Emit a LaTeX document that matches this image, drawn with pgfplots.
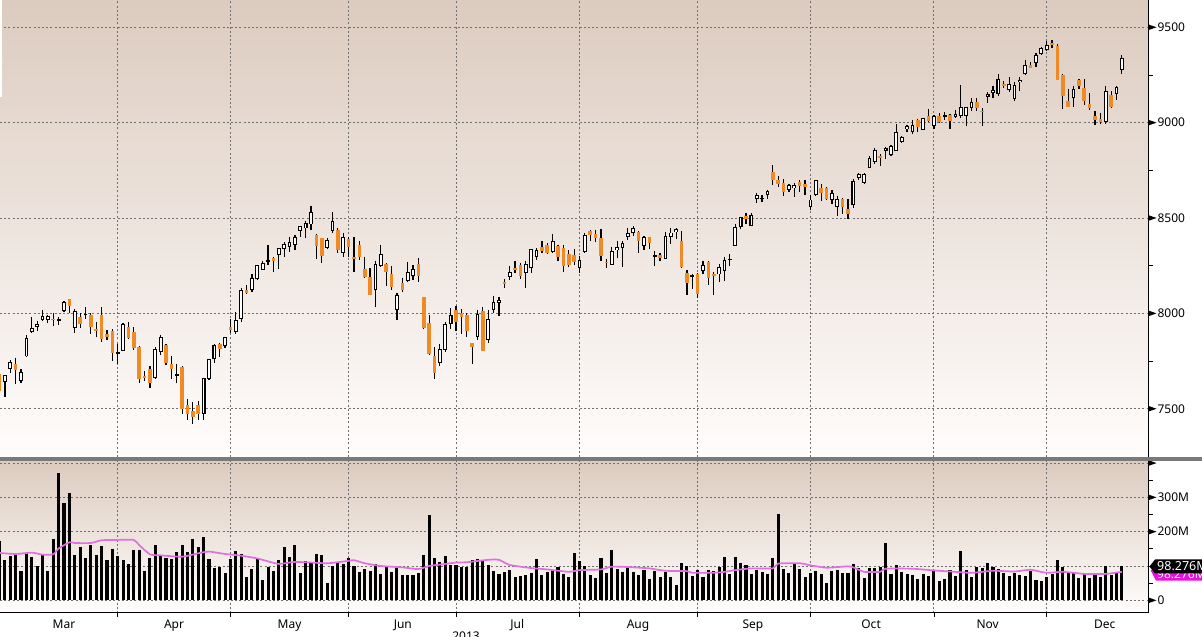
\documentclass[border=0pt]{standalone}
\usepackage{pgfplots}
\usepackage{pgfplotstable}
\usepackage{fontspec}
\setmainfont{Noto Sans}
\pgfplotsset{compat=1.18}
\definecolor{bgtop}{HTML}{DCCBBF}
\definecolor{bgbot}{HTML}{FFFDFC}
\definecolor{gridc}{HTML}{707070}
\definecolor{cand}{HTML}{F08A24}
\definecolor{maline}{HTML}{E070E0}
\definecolor{flagm}{HTML}{E810E0}
\pgfdeclareplotmark{rtri}{\pgfpathmoveto{\pgfqpoint{0pt}{2.8pt}}\pgfpathlineto{\pgfqpoint{8pt}{0pt}}\pgfpathlineto{\pgfqpoint{0pt}{-2.8pt}}\pgfpathclose\pgfusepathqfill}
\pgfplotstableread{
i o h l c
-1 7640 7675 7562 7675
0 7707 7754 7688 7742
2 7649 7707 7635 7690
3 7775 7886 7772 7870
4 7902 7979 7898 7921
5 7930 7961 7909 7944
6 7965 8018 7961 7984
7 7968 7991 7951 7986
9 7965 7982 7940 7970
10 8012 8065 8009 8061
12 7925 8023 7898 8012
14 7995 8032 7970 7998
20 7788 7842 7737 7795
21 7805 7947 7804 7944
27 7663 7825 7656 7812
28 7797 7886 7781 7877
31 7677 7737 7635 7681
36 7474 7663 7439 7660
37 7656 7763 7649 7760
38 7760 7839 7740 7833
40 7830 7877 7819 7874
42 7902 8005 7893 7963
43 7974 8132 7956 8123
45 8126 8205 8114 8184
46 8179 8254 8174 8251
47 8230 8274 8225 8263
48 8275 8358 8251 8279
50 8307 8342 8233 8340
51 8337 8372 8298 8365
52 8351 8403 8324 8374
53 8358 8412 8330 8400
54 8435 8460 8403 8456
55 8446 8482 8395 8474
56 8467 8565 8435 8531
59 8344 8393 8340 8384
60 8433 8531 8424 8484
62 8316 8421 8293 8400
68 8126 8277 8035 8258
69 8247 8360 8244 8310
72 8019 8109 7967 8096
74 8172 8270 8165 8216
75 8198 8251 8175 8233
80 7740 7842 7723 7812
81 7807 7956 7798 7944
82 7946 8026 7918 7991
87 7875 8018 7863 7996
89 7861 8018 7846 7968
90 8019 8091 8002 8058
91 8058 8084 7988 8068
93 8191 8249 8175 8216
96 8214 8274 8135 8258
97 8240 8337 8214 8335
98 8296 8342 8282 8332
101 8324 8417 8319 8377
106 8237 8302 8210 8279
107 8321 8421 8316 8412
112 8256 8349 8253 8325
113 8332 8382 8290 8346
114 8342 8379 8242 8368
115 8400 8449 8384 8419
116 8425 8458 8405 8446
118 8354 8405 8332 8398
120 8297 8325 8247 8304
122 8288 8428 8284 8404
123 8400 8446 8365 8423
124 8426 8447 8389 8439
127 8191 8205 8130 8198
129 8223 8272 8209 8251
132 8205 8260 8167 8240
133 8221 8298 8172 8281
134 8281 8309 8247 8286
135 8356 8470 8353 8451
136 8456 8507 8444 8503
138 8461 8526 8456 8514
139 8602 8633 8579 8619
140 8602 8619 8586 8605
141 8621 8649 8598 8640
145 8646 8677 8637 8670
146 8658 8686 8609 8672
149 8561 8619 8542 8596
150 8621 8700 8616 8696
153 8596 8646 8574 8628
154 8558 8616 8509 8598
157 8568 8702 8553 8695
158 8709 8735 8700 8728
159 8686 8735 8677 8730
160 8765 8826 8761 8812
161 8795 8865 8782 8856
163 8854 8874 8809 8868
164 8832 8881 8826 8877
165 8853 8993 8853 8951
166 8900 8928 8895 8925
167 8967 8988 8953 8981
168 8953 9014 8940 8986
170 8963 9026 8961 9023
172 8984 9040 8967 9035
174 9033 9054 9014 9037
176 9030 9067 9023 9045
177 9035 9198 9026 9081
178 9035 9084 8984 9081
179 9079 9130 9063 9109
182 9137 9158 9102 9151
183 9158 9194 9131 9172
184 9152 9256 9140 9228
186 9173 9240 9158 9203
187 9124 9214 9114 9198
188 9212 9240 9166 9224
189 9256 9329 9250 9301
191 9312 9364 9294 9354
192 9362 9399 9357 9390
193 9380 9429 9376 9406
198 9128 9194 9081 9175
204 9004 9193 8995 9165
206 9149 9191 9119 9187
207 9278 9355 9257 9338
}\upT
\pgfplotstableread{
i o h l c
-2 7684 7684 7593 7593
1 7737 7768 7632 7702
8 7970 8000 7935 7967
11 8075 8075 8000 8040
13 7982 8000 7923 7946
15 7991 8000 7891 7928
16 7918 7956 7874 7907
17 7991 8032 7849 7868
18 7891 7912 7860 7875
19 7907 7916 7749 7790
22 7928 7954 7865 7872
23 7904 7928 7807 7816
24 7823 7828 7633 7656
25 7670 7697 7644 7660
26 7707 7723 7607 7633
29 7833 7839 7728 7742
30 7737 7775 7654 7709
32 7718 7723 7472 7498
33 7518 7553 7439 7472
34 7490 7533 7419 7456
35 7518 7539 7439 7472
39 7840 7847 7770 7814
41 7928 7970 7897 7914
44 8123 8149 8102 8109
49 8288 8298 8217 8275
57 8412 8417 8286 8351
58 8393 8396 8265 8302
61 8439 8447 8319 8333
63 8389 8403 8298 8349
64 8296 8400 8217 8288
65 8360 8382 8281 8295
66 8232 8295 8184 8189
67 8189 8237 8096 8096
70 8260 8263 8144 8217
71 8209 8249 8125 8139
73 8158 8188 8112 8123
76 8260 8291 8165 8196
77 8084 8088 7916 7921
78 7949 7991 7784 7788
79 7775 7825 7656 7688
83 8016 8040 7909 7956
84 8000 8023 7891 7982
85 7991 8000 7877 7907
86 7844 7844 7733 7825
88 8012 8032 7804 7804
92 8165 8179 8135 8158
94 8237 8274 8214 8233
95 8253 8263 8182 8198
99 8349 8379 8316 8328
100 8360 8368 8312 8316
102 8354 8360 8272 8298
103 8344 8361 8219 8246
104 8310 8333 8242 8254
105 8307 8337 8256 8267
108 8431 8435 8382 8409
109 8417 8439 8372 8396
110 8393 8440 8274 8300
111 8272 8286 8237 8263
117 8425 8430 8316 8379
119 8400 8402 8335 8367
121 8305 8318 8272 8288
125 8382 8432 8240 8242
126 8211 8226 8098 8158
128 8204 8212 8081 8104
130 8267 8274 8147 8186
131 8205 8216 8098 8195
137 8512 8525 8468 8496
142 8742 8777 8672 8698
143 8698 8719 8660 8679
144 8686 8707 8614 8639
147 8689 8698 8637 8667
148 8679 8698 8621 8663
151 8656 8677 8589 8632
152 8656 8665 8595 8600
155 8600 8603 8519 8558
156 8546 8598 8493 8521
162 8823 8835 8774 8816
169 9012 9021 8953 8979
171 9033 9072 9002 9009
173 9035 9049 8996 9004
175 9039 9044 8967 9011
180 9109 9130 9063 9077
181 9063 9075 8984 9054
185 9201 9219 9180 9191
190 9303 9319 9284 9289
194 9418 9431 9389 9406
195 9403 9411 9224 9226
196 9250 9256 9074 9142
197 9114 9177 9081 9082
199 9224 9229 9177 9193
200 9180 9229 9093 9116
201 9098 9156 9067 9077
202 9033 9061 8988 9016
203 9019 9049 8995 9004
205 9144 9168 9079 9084
}\downT
\pgfplotstableread{
i v
-2 173
-1 117
0 129
1 132
2 85
3 137
4 126
5 100
6 134
7 85
8 179
9 371
10 283
11 313
12 132
13 155
14 123
15 161
16 132
17 158
18 117
19 150
20 129
21 117
22 106
23 147
24 147
25 85
26 123
27 161
28 129
29 123
30 120
31 141
32 161
33 141
34 179
35 155
36 184
37 120
38 94
39 97
40 80
41 120
42 144
43 135
44 68
45 91
46 123
47 59
48 97
49 85
50 117
51 155
52 126
53 161
54 80
55 115
56 112
57 135
58 132
59 50
60 100
61 109
62 106
63 123
64 100
65 83
66 91
67 85
68 106
69 77
70 97
71 83
72 97
73 74
74 74
75 74
76 80
77 132
78 249
79 123
80 112
81 129
82 103
83 103
84 97
85 97
86 117
87 120
88 117
89 103
90 85
91 77
92 83
93 88
94 68
95 71
96 74
97 80
98 120
99 74
100 83
101 88
102 97
103 77
104 68
105 138
106 115
107 100
108 74
109 65
110 123
111 80
112 147
113 91
114 83
115 97
116 83
117 74
118 88
119 62
120 85
121 68
122 83
123 68
124 45
125 109
126 100
127 71
128 88
129 68
130 88
131 85
132 97
133 126
134 77
135 126
136 109
137 103
138 77
139 88
140 83
141 77
142 123
143 251
144 91
145 80
146 106
147 91
148 68
149 80
150 85
151 77
152 50
153 85
154 88
155 80
156 80
157 106
158 94
159 65
160 94
161 94
162 97
163 167
164 77
165 103
166 83
167 77
168 74
169 62
170 77
171 71
172 85
173 56
174 62
175 88
176 71
177 144
178 88
179 68
180 97
181 94
182 109
183 97
184 91
185 80
186 71
187 80
188 74
189 71
190 85
191 59
192 56
193 68
194 77
195 117
196 97
197 80
198 83
199 65
200 77
201 65
202 77
203 68
204 100
205 74
206 83
207 100
}\volT
\pgfplotstableread{
i m
-2 138
1 135
4 139
6 133
8 134
9 151
11 169
12 167
15 167
17 175
20 176
23 176
24 161
26 134
28 131
32 127
35 137
37 142
40 135
43 130
46 122
50 106
53 112
59 108
63 115
64 117
66 108
69 100
73 96
76 91
78 100
80 104
83 110
85 111
89 118
91 118
93 103
97 94
100 90
104 83
106 88
110 90
112 98
115 97
119 93
122 86
126 85
127 80
132 81
135 88
138 93
142 93
143 107
147 108
149 102
152 95
156 99
157 96
159 83
162 83
163 92
168 92
172 87
175 84
179 80
183 86
187 84
190 89
193 80
196 83
200 77
204 77
207 83
}\maT
\pgfplotstableread{
x y
211.96 7500
211.96 8000
211.96 8500
211.96 9000
211.96 9500
}\priceTicks
\pgfplotstableread{
x y
211.96 0
211.96 200
211.96 300
211.96 400
}\volTicks
\pgfplotsset{
  chartbase/.style={
    scale only axis, width=1148.5pt, xmin=-1.918, xmax=211.96,
    clip=false,
    axis background/.style={shade, top color=bgtop, bottom color=bgbot},
    axis y line*=right,
    axis x line*=bottom,
    xtick={20,41,63,83,106,128,149,172,193},
    grid=major,
    grid style={gridc, line width=0.9pt, dash pattern=on 2pt off 2.2pt},
    tick align=outside,
    major tick length=4pt,
    minor tick length=4pt,
    y axis line style={black, line width=1.1pt},
    every y tick/.style={black, line width=0.9pt},
    yticklabel style={font=\fontsize{12}{14}\selectfont, anchor=west, xshift=1.5pt},
    /pgf/number format/assume math mode=true,
    /pgf/number format/1000 sep={},
  },
  wick/.style={draw=none, mark=none, forget plot,
    error bars/.cd, y dir=minus, y explicit, error mark=none,
    error bar style={draw=black, solid, line width=1.2pt}},
  body/.style 2 args={draw=none, mark=none, forget plot,
    error bars/.cd, y dir=both, y explicit, error mark=none,
    error bar style={draw=#1, solid, line width=#2}},
}
\begin{document}
\begin{tikzpicture}[x=1pt,y=1pt]
\path[use as bounding box] (0,0) rectangle (1202,637);
\begin{axis}[chartbase, at={(0pt,180pt)}, anchor=south west, height=457pt,
  ymin=7247, ymax=9643,
  ytick={7500,8000,8500,9000,9500},
  minor ytick={7750,8250,8750,9250},
  xticklabels={},
  x axis line style={draw=none},
  x tick style={draw=none},
  major x tick style={draw=none},
]
\addplot[wick] table[x=i, y=h, y error minus expr={\thisrow{h}-\thisrow{l}}] {\upT};
\addplot[wick] table[x=i, y=h, y error minus expr={\thisrow{h}-\thisrow{l}}] {\downT};
\addplot[body={black}{3.8pt}]
  table[x=i, y expr={(\thisrow{o}+\thisrow{c})/2}, y error expr={(\thisrow{c}-\thisrow{o})/2+1}] {\upT};
\addplot[body={white}{1.7pt}]
  table[x=i, y expr={(\thisrow{o}+\thisrow{c})/2}, y error expr={max(0,(\thisrow{c}-\thisrow{o})/2-4)}] {\upT};
\addplot[body={cand}{3.6pt}]
  table[x=i, y expr={(\thisrow{o}+\thisrow{c})/2}, y error expr={(\thisrow{o}-\thisrow{c})/2}] {\downT};
\addplot[black, only marks, mark=rtri] table[x=x,y=y] {\priceTicks};
\end{axis}
\begin{axis}[chartbase, at={(0pt,24pt)}, anchor=south west, height=152pt,
  ymin=-37, ymax=406,
  ytick={0,100,200,300,400},
  yticklabels={0,,200M,300M,},
  minor ytick={50,150,250,350},
  xticklabels={},
  x axis line style={black, line width=1pt},
  every x tick/.style={black, line width=0.8pt},
  extra x ticks={10,30.5,52,73.1,94.4,116.9,138.3,160.3,182,203.8},
  extra x tick labels={Mar,Apr,May,Jun,Jul,Aug,Sep,Oct,Nov,Dec},
  extra x tick style={grid=none, major tick length=0pt, tick style={draw=none},
     xticklabel style={font=\fontsize{12}{14}\selectfont, yshift=-3pt, text height=9pt, text depth=0pt}},
]
\addplot[ycomb, black, line width=3.1pt, mark=none] table[x=i,y=v] {\volT};
\addplot[maline, line width=1.7pt, mark=none, smooth, tension=0.35] table[x=i,y=m] {\maT};
\addplot[black, only marks, mark=rtri] table[x=x,y=y] {\volTicks};
\end{axis}
% divider between panels
\fill[gray!95!black] (0,176) rectangle (1202,180.3);
\fill[white] (0,540) rectangle (1.6,637);
% value flags
\fill[flagm] (1150.5,67) -- (1156,56.3) -- (1202,56.3) -- (1202,67) -- cycle;
\node[anchor=west, inner sep=0pt, text=white, font=\fontsize{12}{14}\selectfont] at (1157,63) {98.276M};
\fill[black] (1149.5,70.5) -- (1155,77.5) -- (1202,77.5) -- (1202,63.5) -- (1155,63.5) -- cycle;
\node[anchor=west, inner sep=0pt, text=white, font=\fontsize{12.5}{14}\selectfont] at (1157,70.5) {98.276M};
\node[anchor=north, inner sep=0pt, font=\fontsize{12}{14}\selectfont] at (466,5.5) {2013};
\end{tikzpicture}
\end{document}
